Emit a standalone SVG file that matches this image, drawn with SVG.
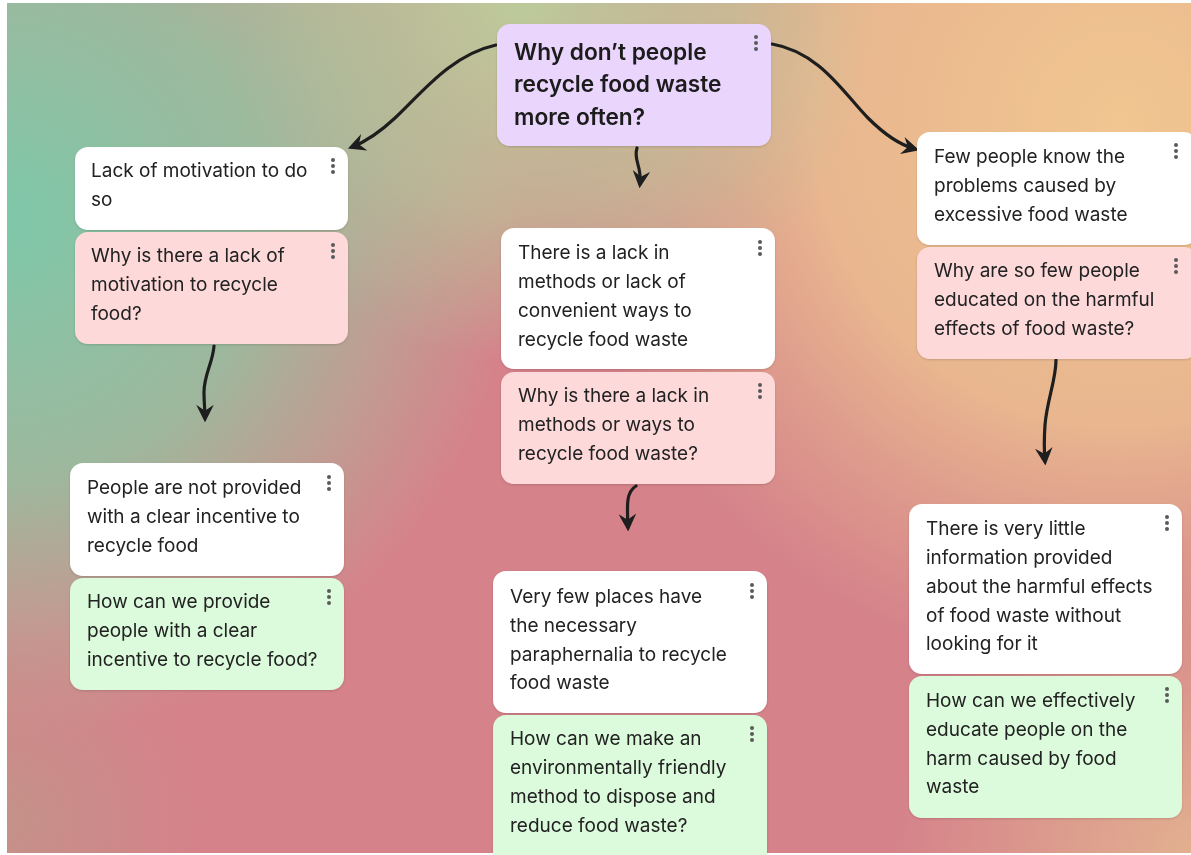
<svg xmlns="http://www.w3.org/2000/svg" width="1191" height="855" viewBox="0 0 1191 855">
<style>
.t{font-family:Inter,"Noto Sans","Liberation Sans",sans-serif;font-size:19px;fill:#222}
.h{font-family:Inter,"Noto Sans","Liberation Sans",sans-serif;font-size:22.7px;font-weight:600;fill:#1a1a1a}
.w{fill:#ffffff}
.p{fill:#fdd9da}
.g{fill:#dcfbdc}
.v{fill:#ead6fd}
.d{fill:#5a5a5a}
.c{fill:none;stroke:#1e1e1e;stroke-width:3.2;stroke-linecap:round}
</style>
<defs>
<marker id="ah" viewBox="0 0 12 12" refX="9" refY="6" markerWidth="5.5" markerHeight="5.5" orient="auto" markerUnits="strokeWidth">
<path d="M0,0 L12,6 L0,12 L4,6 z" fill="#1e1e1e"/>
</marker>
<radialGradient id="gGreen" cx="0" cy="220" r="520" gradientUnits="userSpaceOnUse">
<stop offset="0" stop-color="#7dc8a9" stop-opacity="1"/>
<stop offset="0.5" stop-color="#8fc5a2" stop-opacity="0.8"/>
<stop offset="1" stop-color="#a9c89c" stop-opacity="0"/>
</radialGradient>
<radialGradient id="gTop" cx="520" cy="0" r="360" gradientUnits="userSpaceOnUse">
<stop offset="0" stop-color="#bccb9b" stop-opacity="1"/>
<stop offset="0.6" stop-color="#bcc89a" stop-opacity="0.6"/>
<stop offset="1" stop-color="#bcc89a" stop-opacity="0"/>
</radialGradient>
<radialGradient id="gTan" cx="1120" cy="120" r="560" gradientUnits="userSpaceOnUse">
<stop offset="0" stop-color="#f1c690" stop-opacity="1"/>
<stop offset="0.55" stop-color="#ecbf90" stop-opacity="0.85"/>
<stop offset="1" stop-color="#e5b38f" stop-opacity="0"/>
</radialGradient>
<radialGradient id="gBR" cx="1191" cy="855" r="300" gradientUnits="userSpaceOnUse">
<stop offset="0" stop-color="#e2b090" stop-opacity="1"/>
<stop offset="1" stop-color="#e2b090" stop-opacity="0"/>
</radialGradient>
<radialGradient id="gBL" cx="0" cy="820" r="200" gradientUnits="userSpaceOnUse">
<stop offset="0" stop-color="#bf9688" stop-opacity="0.8"/>
<stop offset="1" stop-color="#bf9688" stop-opacity="0"/>
</radialGradient>
<filter id="sh" x="-10%" y="-10%" width="120%" height="130%">
<feDropShadow dx="0" dy="1" stdDeviation="1.2" flood-color="#000" flood-opacity="0.15"/>
</filter>
</defs>
<rect width="1191" height="855" fill="#ffffff"/>
<g id="background">
<rect x="7" y="3" width="1184" height="850" fill="#d5828a"/>
<rect x="7" y="3" width="1184" height="850" fill="url(#gTan)"/>
<rect x="7" y="3" width="1184" height="850" fill="url(#gTop)"/>
<rect x="7" y="3" width="1184" height="850" fill="url(#gGreen)"/>
<rect x="7" y="3" width="1184" height="850" fill="url(#gBR)"/>
<rect x="7" y="3" width="1184" height="850" fill="url(#gBL)"/>
</g>
<g id="connectors">
<path class="c" d="M496,45 C450,55 420,95 395,118 C380,132 365,142 352,147" marker-end="url(#ah)"/>
<path class="c" d="M772,44 C820,52 845,95 868,118 C885,135 900,145 915,149" marker-end="url(#ah)"/>
<path class="c" d="M637,148 C633,160 642,166 640,184" marker-end="url(#ah)"/>
<path class="c" d="M214,346 C213,362 204,375 204,392 C204,402 205,410 205,418" marker-end="url(#ah)"/>
<path class="c" d="M636,486 C626,492 627,505 628,527" marker-end="url(#ah)"/>
<path class="c" d="M1056,360 C1056,380 1047,400 1045,425 C1044,440 1044,450 1045,461" marker-end="url(#ah)"/>
</g>
<g id="title" filter="url(#sh)">
<rect class="v" x="497" y="24" width="274" height="122" rx="13"/>
<circle class="d" cx="756" cy="37" r="2"/><circle class="d" cx="756" cy="43" r="2"/><circle class="d" cx="756" cy="49" r="2"/>
<text class="h" x="514" y="60">Why don’t people</text>
<text class="h" x="514" y="92">recycle food waste</text>
<text class="h" x="514" y="125">more often?</text>
</g>
<g id="n1" filter="url(#sh)">
<rect class="w" x="75" y="147" width="273" height="83" rx="13"/>
<circle class="d" cx="333" cy="160" r="2"/><circle class="d" cx="333" cy="166" r="2"/><circle class="d" cx="333" cy="172" r="2"/>
<text class="t" x="91" y="177">Lack of motivation to do</text>
<text class="t" x="91" y="206">so</text>
</g>
<g id="n2" filter="url(#sh)">
<rect class="p" x="75" y="232" width="273" height="112" rx="13"/>
<circle class="d" cx="333" cy="245" r="2"/><circle class="d" cx="333" cy="251" r="2"/><circle class="d" cx="333" cy="257" r="2"/>
<text class="t" x="91" y="262">Why is there a lack of</text>
<text class="t" x="91" y="291">motivation to recycle</text>
<text class="t" x="91" y="320">food?</text>
</g>
<g id="n3" filter="url(#sh)">
<rect class="w" x="70" y="463" width="274" height="113" rx="13"/>
<circle class="d" cx="329" cy="477" r="2"/><circle class="d" cx="329" cy="483" r="2"/><circle class="d" cx="329" cy="489" r="2"/>
<text class="t" x="87" y="494">People are not provided</text>
<text class="t" x="87" y="523">with a clear incentive to</text>
<text class="t" x="87" y="552">recycle food</text>
</g>
<g id="n4" filter="url(#sh)">
<rect class="g" x="70" y="578" width="274" height="112" rx="13"/>
<circle class="d" cx="329" cy="591" r="2"/><circle class="d" cx="329" cy="597" r="2"/><circle class="d" cx="329" cy="603" r="2"/>
<text class="t" x="87" y="608">How can we provide</text>
<text class="t" x="87" y="637">people with a clear</text>
<text class="t" x="87" y="666">incentive to recycle food?</text>
</g>
<g id="n5" filter="url(#sh)">
<rect class="w" x="501" y="228" width="274" height="141" rx="13"/>
<circle class="d" cx="760" cy="242" r="2"/><circle class="d" cx="760" cy="248" r="2"/><circle class="d" cx="760" cy="254" r="2"/>
<text class="t" x="518" y="259">There is a lack in</text>
<text class="t" x="518" y="288">methods or lack of</text>
<text class="t" x="518" y="317">convenient ways to</text>
<text class="t" x="518" y="346">recycle food waste</text>
</g>
<g id="n6" filter="url(#sh)">
<rect class="p" x="501" y="372" width="274" height="112" rx="13"/>
<circle class="d" cx="760" cy="385" r="2"/><circle class="d" cx="760" cy="391" r="2"/><circle class="d" cx="760" cy="397" r="2"/>
<text class="t" x="518" y="402">Why is there a lack in</text>
<text class="t" x="518" y="431">methods or ways to</text>
<text class="t" x="518" y="460">recycle food waste?</text>
</g>
<g id="n7" filter="url(#sh)">
<rect class="w" x="493" y="571" width="274" height="142" rx="13"/>
<circle class="d" cx="752" cy="585" r="2"/><circle class="d" cx="752" cy="591" r="2"/><circle class="d" cx="752" cy="597" r="2"/>
<text class="t" x="510" y="603">Very few places have</text>
<text class="t" x="510" y="632">the necessary</text>
<text class="t" x="510" y="661">paraphernalia to recycle</text>
<text class="t" x="510" y="689">food waste</text>
</g>
<g id="n8" filter="url(#sh)">
<rect class="g" x="493" y="715" width="274" height="150" rx="13"/>
<circle class="d" cx="752" cy="728" r="2"/><circle class="d" cx="752" cy="734" r="2"/><circle class="d" cx="752" cy="740" r="2"/>
<text class="t" x="510" y="745">How can we make an</text>
<text class="t" x="510" y="774">environmentally friendly</text>
<text class="t" x="510" y="803">method to dispose and</text>
<text class="t" x="510" y="832">reduce food waste?</text>
</g>
<g id="n9" filter="url(#sh)">
<rect class="w" x="917" y="132" width="280" height="113" rx="13"/>
<circle class="d" cx="1176" cy="145" r="2"/><circle class="d" cx="1176" cy="151" r="2"/><circle class="d" cx="1176" cy="157" r="2"/>
<text class="t" x="934" y="163">Few people know the</text>
<text class="t" x="934" y="192">problems caused by</text>
<text class="t" x="934" y="221">excessive food waste</text>
</g>
<g id="n10" filter="url(#sh)">
<rect class="p" x="917" y="247" width="280" height="112" rx="13"/>
<circle class="d" cx="1176" cy="260" r="2"/><circle class="d" cx="1176" cy="266" r="2"/><circle class="d" cx="1176" cy="272" r="2"/>
<text class="t" x="934" y="277">Why are so few people</text>
<text class="t" x="934" y="306">educated on the harmful</text>
<text class="t" x="934" y="335">effects of food waste?</text>
</g>
<g id="n11" filter="url(#sh)">
<rect class="w" x="909" y="504" width="273" height="170" rx="13"/>
<circle class="d" cx="1167" cy="517" r="2"/><circle class="d" cx="1167" cy="523" r="2"/><circle class="d" cx="1167" cy="529" r="2"/>
<text class="t" x="926" y="535">There is very little</text>
<text class="t" x="926" y="564">information provided</text>
<text class="t" x="926" y="593">about the harmful effects</text>
<text class="t" x="926" y="622">of food waste without</text>
<text class="t" x="926" y="650">looking for it</text>
</g>
<g id="n12" filter="url(#sh)">
<rect class="g" x="909" y="676" width="273" height="142" rx="13"/>
<circle class="d" cx="1167" cy="689" r="2"/><circle class="d" cx="1167" cy="695" r="2"/><circle class="d" cx="1167" cy="701" r="2"/>
<text class="t" x="926" y="707">How can we effectively</text>
<text class="t" x="926" y="736">educate people on the</text>
<text class="t" x="926" y="765">harm caused by food</text>
<text class="t" x="926" y="793">waste</text>
</g>
</svg>
